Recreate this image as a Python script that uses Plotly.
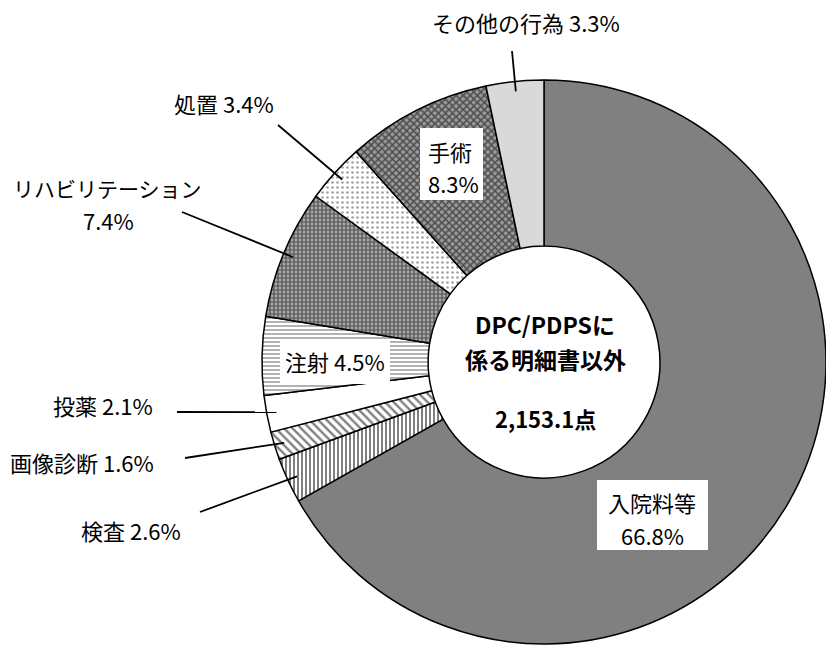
import math
import plotly.graph_objects as go

W, H = 826, 648

# ---------------- data ----------------
categories = ["入院料等", "検査", "画像診断", "投薬", "注射",
              "リハビリテーション", "処置", "手術", "その他の行為"]
values = [66.8, 2.6, 1.6, 2.1, 4.5, 7.4, 3.4, 8.3, 3.3]
center_lines = ["DPC/PDPSに", "係る明細書以外", "2,153.1点"]

# ---------------- style ----------------
FONT = "Noto Sans CJK JP"
colors = ["#808080", "#ffffff", "#ffffff", "#ffffff", "#ffffff",
          "#c4c4c4", "#ffffff", "#8c8c8c", "#d9d9d9"]
pat_shape = ["", "|", "\\", "", "-", ".", ".", "x", ""]
pat_fg = ["#000000", "#000000", "#000000", "#000000", "#000000",
          "#000000", "#444444", "#000000", "#000000"]
pat_bg = ["#808080", "#ffffff", "#ffffff", "#ffffff", "#ffffff",
          "#c4c4c4", "#ffffff", "#9a9a9a", "#d9d9d9"]
pat_size = [6, 4, 6, 6, 4, 4, 5, 5, 6]
pat_sol = [0.3, 0.5, 0.4, 0.3, 0.3, 0.7, 0.22, 0.5, 0.3]

# pie geometry (pixels)
CX, CY, R = 544, 362, 282
HOLE = 0.411


def X(px):
    return px / W


def Y(py):
    return 1 - py / H


fig = go.Figure()
fig.add_trace(go.Pie(
    labels=categories,
    values=values,
    sort=False,
    direction="clockwise",
    rotation=0,
    hole=HOLE,
    textinfo="none",
    hoverinfo="label+percent",
    showlegend=False,
    marker=dict(
        colors=colors,
        line=dict(color="#000000", width=1.5),
        pattern=dict(shape=pat_shape, fgcolor=pat_fg, bgcolor=pat_bg,
                     size=pat_size, solidity=pat_sol, fillmode="overlay"),
    ),
    domain=dict(x=[X(CX - R), 1.0], y=[Y(CY + R), Y(CY - R)]),
))

total = sum(values)


def mid_point(i, frac):
    before = sum(values[:i])
    ang = (before + values[i] / 2) / total * 2 * math.pi
    return CX + frac * R * math.sin(ang), CY - frac * R * math.cos(ang)


shapes = []
annotations = []


def lab_font(size=22):
    return dict(family=FONT, size=size, color="#000000")


# outside labels: index -> (label lines with px centers and font size, leader start px)
outside = {
    1: ([(f"{categories[1]} {values[1]:.1f}%", 131, 530, 22)], (200, 512)),
    2: ([(f"{categories[2]} {values[2]:.1f}%", 82, 462, 22)], (185, 458)),
    3: ([(f"{categories[3]} {values[3]:.1f}%", 103, 405, 22)], (177, 412)),
    5: ([(categories[5], 107, 188, 21), (f"{values[5]:.1f}%", 109, 220, 22)], (182, 212)),
    6: ([(f"{categories[6]} {values[6]:.1f}%", 224, 103, 22)], (278, 125)),
    8: ([(f"{categories[8]} {values[8]:.1f}%", 526, 22, 22)], (512, 51)),
}
for i, (lines, start) in outside.items():
    ex, ey = mid_point(i, 0.965)
    shapes.append(dict(type="line", xref="paper", yref="paper",
                       x0=X(start[0]), y0=Y(start[1]), x1=X(ex), y1=Y(ey),
                       line=dict(color="#000000", width=1.8), layer="above"))
    for txt, px, py, fs in lines:
        annotations.append(dict(text=txt, x=X(px), y=Y(py), xref="paper", yref="paper",
                                showarrow=False, xanchor="center", yanchor="middle",
                                font=lab_font(fs)))

# inside labels with white boxes: index -> (box px, lines)
inside = {
    0: ((597, 480, 708, 550), [(categories[0], 652, 502), (f"{values[0]:.1f}%", 652, 535)]),
    4: ((280, 340, 390, 384), [(f"{categories[4]} {values[4]:.1f}%", 335, 361)]),
    7: ((420, 128, 483, 200), [(categories[7], 450, 151), (f"{values[7]:.1f}%", 454, 183)]),
}
for i, (box, lines) in inside.items():
    shapes.append(dict(type="rect", xref="paper", yref="paper",
                       x0=X(box[0]), y0=Y(box[3]), x1=X(box[2]), y1=Y(box[1]),
                       fillcolor="#ffffff", line=dict(width=0), layer="above"))
    for txt, px, py in lines:
        annotations.append(dict(text=txt, x=X(px), y=Y(py), xref="paper", yref="paper",
                                showarrow=False, xanchor="center", yanchor="middle",
                                font=lab_font(22)))

# center text
for txt, py, fs in zip(center_lines, [324, 359, 418], [23, 23, 22]):
    annotations.append(dict(text=f"<b>{txt}</b>", x=X(545), y=Y(py), xref="paper", yref="paper",
                            showarrow=False, xanchor="center", yanchor="middle",
                            font=dict(family=FONT, size=fs, color="#000000")))

fig.update_layout(
    width=W, height=H,
    margin=dict(l=0, r=0, t=0, b=0),
    paper_bgcolor="#ffffff",
    plot_bgcolor="#ffffff",
    shapes=shapes,
    annotations=annotations,
    font=dict(family=FONT),
)

fig.write_html("out.html")
